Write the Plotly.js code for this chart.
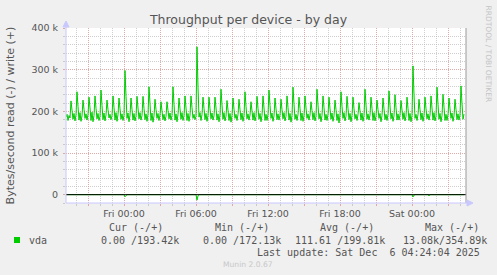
<!DOCTYPE html>
<html>
<head>
<meta charset="utf-8">
<script src="https://cdn.plot.ly/plotly-3.0.1.min.js"></script>
<style>
html, body { margin: 0; padding: 0; background: #f0f0f0; }
#chart { width: 497px; height: 275px; }
</style>
</head>
<body>
<div id="chart"></div>
<script>
// ---------- DATA ----------
// write (+) throughput, kB/s, 5-minute samples starting Thu 2025-12-04 19:10
const sampleStart = '2025-12-04 19:10';
const sampleStepMinutes = 5;
const writeK = [
  186,193,178,190,184,
  225,203,181,195,177,191,
  247,212,179,197,176,189,
  227,205,183,194,179,192,
  234,208,178,198,175,190,
  237,207,182,195,178,188,
  251,214,180,196,177,191,
  227,204,184,193,180,189,
  237,209,179,197,176,192,
  232,206,181,194,178,190,
  298,236,183,196,175,191,
  232,205,179,195,177,188,
  236,208,182,197,179,190,
  236,207,180,194,176,192,
  259,218,178,196,174,189,
  229,204,183,195,178,191,
  223,201,180,193,177,188,
  223,202,182,196,179,190,
  259,217,179,194,175,192,
  232,206,181,197,178,189,
  237,208,178,195,176,191,
  237,209,183,193,180,188,
  354.89,258,186,197,178,192,
  234,207,180,195,176,190,
  234,206,182,196,179,189,
  234,208,179,194,175,191,
  253,215,181,197,177,188,
  226,203,178,195,174,190,
  232,205,183,193,178,192,
  229,204,180,196,176,189,
  247,212,182,194,179,191,
  223,201,179,197,177,188,
  236,207,181,195,175,190,
  237,208,178,193,178,192,
  251,214,183,196,176,189,
  232,206,180,194,179,191,
  229,204,182,197,177,188,
  237,209,179,195,174,190,
  258,217,181,193,178,192,
  234,207,178,196,176,189,
  237,208,183,194,179,191,
  223,202,180,197,177,188,
  253,215,182,195,175,190,
  237,209,179,193,178,192,
  234,206,181,196,176,189,
  227,204,178,194,172.13,191,
  247,212,183,197,177,188,
  236,207,180,195,175,190,
  234,206,182,193,178,192,
  221,201,179,196,176,189,
  253,215,181,194,179,191,
  234,207,178,197,177,188,
  227,204,183,195,175,190,
  232,206,180,193,178,192,
  249,213,182,196,176,189,
  240,209,179,194,179,191,
  226,203,181,197,177,188,
  234,207,178,195,175,190,
  309,240,183,193,178,192,
  229,204,180,196,176,189,
  234,206,182,194,179,191,
  237,208,179,197,177,188,
  258,217,181,195,175,190,
  241,210,178,193,178,192,
  232,206,183,196,176,189,
  229,204,180,194,179,191,
  261,218,181,193.42
];
// read (-) throughput, kB/s (drawn negative), only where it changes
const readTimes = [
  '2025-12-04 19:10',
  '2025-12-05 00:00','2025-12-05 00:05','2025-12-05 00:10','2025-12-05 00:15',
  '2025-12-05 06:00','2025-12-05 06:05','2025-12-05 06:10','2025-12-05 06:15',
  '2025-12-06 00:00','2025-12-06 00:05','2025-12-06 00:10','2025-12-06 00:15',
  '2025-12-06 01:20','2025-12-06 01:25','2025-12-06 01:30',
  '2025-12-06 04:20'
];
const readK = [
  0,
  0,-5,-1.5,0,
  0,-13.08,-3,0,
  0,-5.5,-1,0,
  0,-3,0,
  0
];
const xTickVals = ['2025-12-04 21:00','2025-12-05 00:00','2025-12-05 03:00','2025-12-05 06:00',
  '2025-12-05 09:00','2025-12-05 12:00','2025-12-05 15:00','2025-12-05 18:00',
  '2025-12-05 21:00','2025-12-06 00:00','2025-12-06 03:00'];
const xTickText = ['','Fri 00:00','','Fri 06:00','','Fri 12:00','','Fri 18:00','','Sat 00:00',''];
const yTickVals = [0,100,200,300,400];
const yTickText = ['0','100 k','200 k','300 k','400 k'];
const legendHeaders = ['Cur (-/+)','Min (-/+)','Avg (-/+)','Max (-/+)'];
const legendValues = ['0.00 /193.42k','0.00 /172.13k','111.61 /199.81k','13.08k/354.89k'];
const seriesName = 'vda';
const lastUpdate = 'Last update: Sat Dec\u00a0\u00a06 04:24:04 2025';

// ---------- helpers ----------
function toMs(s) {
  const [d, t] = s.split(' ');
  const [Y, M, D] = d.split('-').map(Number);
  const [h, m] = t.split(':').map(Number);
  return Date.UTC(Y, M - 1, D, h, m);
}
const t0 = toMs(sampleStart);
const writeTimes = writeK.map((_, i) => t0 + i * sampleStepMinutes * 60000);

const W = 497, H = 275, L = 66, R = 31, T = 28, B = 72;
const PW = W - L - R, PH = H - T - B;
const px = x => (x - L) / PW;
const py = y => (H - B - y) / PH;

const green = '#00cc00';
const textCol = '#555555';
const axisBlue = '#c8c8ff';

const traces = [
  { x: readTimes, y: readK, type: 'scatter', mode: 'lines', name: seriesName + ' read',
    line: { color: green, width: 1 }, hoverinfo: 'skip', showlegend: false },
  { x: writeTimes, y: writeK, type: 'scatter', mode: 'lines', name: seriesName,
    line: { color: green, width: 1 }, showlegend: false }
];

const shapes = [
  // zero line
  { type: 'line', xref: 'paper', yref: 'y', x0: 0, x1: 1, y0: 0, y1: 0,
    line: { color: '#000000', width: 1 }, layer: 'above' },
  // right frame line
  { type: 'line', xref: 'paper', yref: 'paper', x0: 1, x1: 1, y0: 0, y1: 1,
    line: { color: '#999999', width: 1 }, layer: 'above' },
  // left axis with arrow
  { type: 'line', xref: 'paper', yref: 'paper', x0: px(66), x1: px(66), y0: py(203), y1: py(24),
    line: { color: axisBlue, width: 1 }, layer: 'above' },
  { type: 'path', xref: 'paper', yref: 'paper',
    path: `M ${px(63)} ${py(27)} L ${px(69)} ${py(27)} L ${px(66)} ${py(21)} Z`,
    fillcolor: axisBlue, line: { color: axisBlue, width: 1 }, layer: 'above' },
  // bottom axis with arrow
  { type: 'line', xref: 'paper', yref: 'paper', x0: px(66), x1: px(469), y0: py(203), y1: py(203),
    line: { color: axisBlue, width: 1 }, layer: 'above' },
  { type: 'path', xref: 'paper', yref: 'paper',
    path: `M ${px(467)} ${py(200)} L ${px(467)} ${py(206)} L ${px(473)} ${py(203)} Z`,
    fillcolor: axisBlue, line: { color: axisBlue, width: 1 }, layer: 'above' },
  // legend swatch
  { type: 'rect', xref: 'paper', yref: 'paper', x0: px(14), x1: px(20), y0: py(243), y1: py(237),
    fillcolor: green, line: { color: green, width: 0 } }
];

const mono = { family: 'DejaVu Sans Mono', size: 10, color: textCol };
const headerX = [107, 213, 318, 423];
const valueX = [99, 201, 293, 401];
const annotations = [];
legendHeaders.forEach((h, i) => annotations.push({
  xref: 'paper', yref: 'paper', x: px(headerX[i]), y: py(227), text: h,
  showarrow: false, xanchor: 'left', yanchor: 'middle', font: mono }));
legendValues.forEach((v, i) => annotations.push({
  xref: 'paper', yref: 'paper', x: px(valueX[i]), y: py(240), text: v,
  showarrow: false, xanchor: 'left', yanchor: 'middle', font: mono }));
annotations.push({ xref: 'paper', yref: 'paper', x: px(27), y: py(240), text: seriesName,
  showarrow: false, xanchor: 'left', yanchor: 'middle', font: mono });
annotations.push({ xref: 'paper', yref: 'paper', x: px(482), y: py(252), text: lastUpdate,
  showarrow: false, xanchor: 'right', yanchor: 'middle', font: mono });
annotations.push({ xref: 'paper', yref: 'paper', x: px(248), y: py(264), text: 'Munin 2.0.67',
  showarrow: false, xanchor: 'center', yanchor: 'middle',
  font: { family: 'DejaVu Sans', size: 7.6, color: '#c8c8c8' } });
annotations.push({ xref: 'paper', yref: 'paper', x: px(488), y: py(53.5), text: 'RRDTOOL / TOBI OETIKER',
  showarrow: false, xanchor: 'center', yanchor: 'middle', textangle: 90,
  font: { family: 'DejaVu Sans', size: 7.5, color: '#c4c4c4' } });

const majorGrid = 'rgba(235,140,140,0.55)';
const minorGrid = 'rgba(180,180,180,0.65)';

const layout = {
  width: W, height: H,
  margin: { l: L, r: R, t: T, b: B, pad: 0 },
  paper_bgcolor: '#f0f0f0',
  plot_bgcolor: '#ffffff',
  font: { family: 'DejaVu Sans', size: 9.5, color: textCol },
  showlegend: false,
  title: { text: 'Throughput per device - by day', xref: 'container', x: 0.5, xanchor: 'center',
    yref: 'container', y: 1 - 19.5 / H, yanchor: 'middle',
    font: { family: 'DejaVu Sans', size: 12.5, color: textCol } },
  xaxis: {
    type: 'date',
    range: [toMs('2025-12-04 19:10'), toMs('2025-12-06 04:30')],
    tickmode: 'array', tickvals: xTickVals, ticktext: xTickText,
    showgrid: true, gridcolor: majorGrid, griddash: '1px,1px', gridwidth: 1,
    ticks: 'outside', ticklen: 2, tickcolor: majorGrid,
    minor: { dtick: 3600000, tick0: '2025-12-04 20:00', showgrid: true, gridcolor: minorGrid,
      griddash: '1px,1px', ticks: 'outside', ticklen: 2, tickcolor: minorGrid },
    showline: false, zeroline: false, fixedrange: true,
    tickfont: { family: 'DejaVu Sans', size: 9.5, color: textCol }
  },
  yaxis: {
    range: [-20, 400],
    tickmode: 'array', tickvals: yTickVals, ticktext: yTickText,
    showgrid: true, gridcolor: majorGrid, griddash: '1px,1px', gridwidth: 1,
    ticks: 'outside', ticklen: 2, tickcolor: majorGrid, ticklabelstandoff: 3,
    minor: { dtick: 20, tick0: 0, showgrid: true, gridcolor: minorGrid,
      griddash: '1px,1px', ticks: 'outside', ticklen: 2, tickcolor: minorGrid },
    showline: false, zeroline: false, fixedrange: true,
    tickfont: { family: 'DejaVu Sans', size: 9.5, color: textCol },
    title: { text: 'Bytes/second read (-) / write (+)', standoff: 14,
      font: { family: 'DejaVu Sans', size: 11, color: textCol } },
    automargin: false
  },
  shapes: shapes,
  annotations: annotations
};

Plotly.newPlot('chart', traces, layout, { staticPlot: true, displayModeBar: false });
</script>
</body>
</html>
